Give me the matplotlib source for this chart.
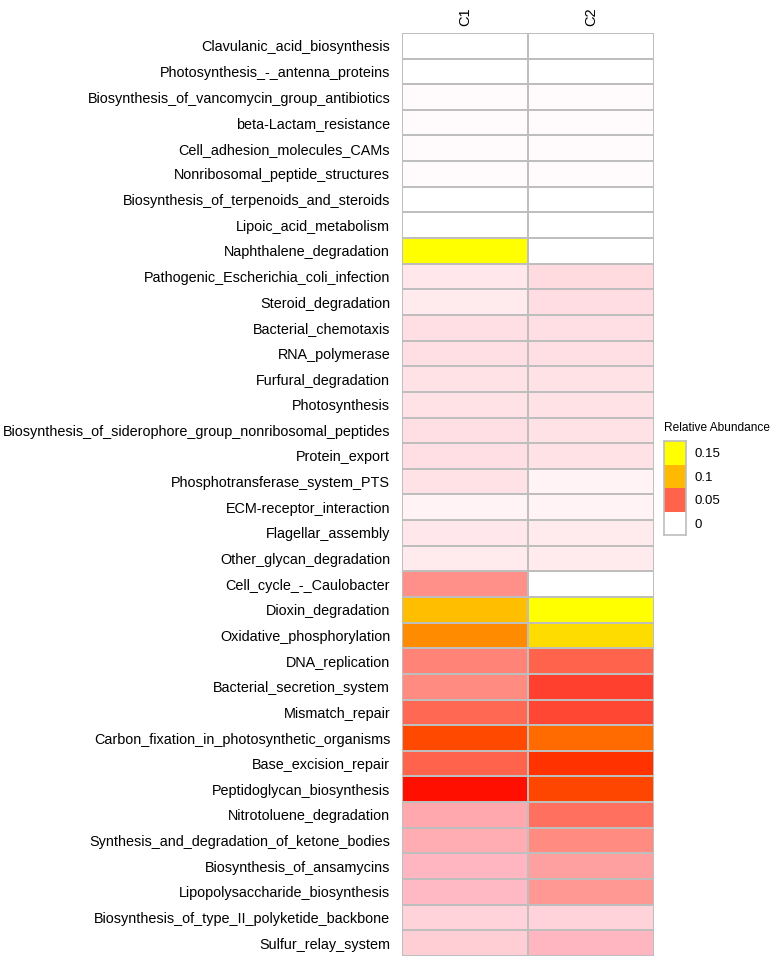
import matplotlib
matplotlib.use("Agg")
import matplotlib.pyplot as plt
import numpy as np
from matplotlib.colors import LinearSegmentedColormap, Normalize

plt.rcParams["font.family"] = ["Liberation Sans", "DejaVu Sans"]

pathways = [
    "Clavulanic_acid_biosynthesis",
    "Photosynthesis_-_antenna_proteins",
    "Biosynthesis_of_vancomycin_group_antibiotics",
    "beta-Lactam_resistance",
    "Cell_adhesion_molecules_CAMs",
    "Nonribosomal_peptide_structures",
    "Biosynthesis_of_terpenoids_and_steroids",
    "Lipoic_acid_metabolism",
    "Naphthalene_degradation",
    "Pathogenic_Escherichia_coli_infection",
    "Steroid_degradation",
    "Bacterial_chemotaxis",
    "RNA_polymerase",
    "Furfural_degradation",
    "Photosynthesis",
    "Biosynthesis_of_siderophore_group_nonribosomal_peptides",
    "Protein_export",
    "Phosphotransferase_system_PTS",
    "ECM-receptor_interaction",
    "Flagellar_assembly",
    "Other_glycan_degradation",
    "Cell_cycle_-_Caulobacter",
    "Dioxin_degradation",
    "Oxidative_phosphorylation",
    "DNA_replication",
    "Bacterial_secretion_system",
    "Mismatch_repair",
    "Carbon_fixation_in_photosynthetic_organisms",
    "Base_excision_repair",
    "Peptidoglycan_biosynthesis",
    "Nitrotoluene_degradation",
    "Synthesis_and_degradation_of_ketone_bodies",
    "Biosynthesis_of_ansamycins",
    "Lipopolysaccharide_biosynthesis",
    "Biosynthesis_of_type_II_polyketide_backbone",
    "Sulfur_relay_system",
]
samples = ["C1", "C2"]

c1 = [0.0, 0.0, 0.001, 0.001, 0.001, 0.0008, 0.0005, 0.0005, 0.16,
      0.004, 0.003, 0.006, 0.006, 0.005, 0.005, 0.006, 0.006, 0.005,
      0.002, 0.004, 0.003, 0.033, 0.105, 0.09, 0.038, 0.035, 0.048,
      0.076, 0.05, 0.066, 0.025, 0.024, 0.02, 0.019, 0.01, 0.012]
c2 = [0.0, 0.0, 0.001, 0.001, 0.001, 0.0008, 0.0005, 0.0005, 0.0,
      0.008, 0.007, 0.006, 0.006, 0.005, 0.005, 0.005, 0.005, 0.002,
      0.002, 0.003, 0.003, 0.0, 0.155, 0.128, 0.05, 0.056, 0.055,
      0.083, 0.072, 0.075, 0.045, 0.035, 0.028, 0.031, 0.01, 0.02]

legend_values = [0.15, 0.1, 0.05, 0]

vmax = 0.15
stops = [
    (0.0, "#FFFFFF"),
    (0.004, "#FFE4E8"),
    (0.02, "#FFB6C1"),
    (0.035, "#FF8A80"),
    (0.05, "#FF634B"),
    (0.065, "#FF0A00"),
    (0.075, "#FF4500"),
    (0.09, "#FF8C00"),
    (0.1, "#FFB900"),
    (0.125, "#FFD700"),
    (0.15, "#FFFF00"),
]
cmap = LinearSegmentedColormap.from_list("abund", [(v / vmax, c) for v, c in stops])
norm = Normalize(vmin=0, vmax=vmax, clip=True)

data = np.column_stack([c1, c2])

fig = plt.figure(figsize=(7.79, 9.6), dpi=100)
ax = fig.add_axes([0.516, 0.0042, 0.3235, 0.9615])
ax.pcolormesh(data, cmap=cmap, norm=norm, edgecolors="#BEBEBE", linewidth=1.2)
ax.set_xlim(0, 2)
ax.set_ylim(len(pathways), 0)
ax.set_yticks(np.arange(len(pathways)) + 0.5)
ax.set_yticklabels(pathways, fontsize=10.4)
ax.tick_params(axis="y", length=0, pad=8.5)
ax.set_xticks(np.arange(2) + 0.5)
ax.set_xticklabels(samples, fontsize=10.5, rotation=90)
ax.xaxis.tick_top()
ax.tick_params(axis="x", length=0, pad=5)
for s in ax.spines.values():
    s.set_visible(False)

# legend
lax = fig.add_axes([0.8524, 0.4427, 0.0282, 0.0979])
lax.pcolormesh(np.array(legend_values).reshape(-1, 1), cmap=cmap, norm=norm,
               edgecolors="none")
lax.set_ylim(len(legend_values), 0)
lax.set_xlim(0, 1)
lax.set_xticks([])
lax.set_yticks(np.arange(len(legend_values)) + 0.5)
lax.set_yticklabels([str(v) for v in legend_values], fontsize=9.5)
lax.yaxis.tick_right()
lax.tick_params(length=0, pad=6)
for s in lax.spines.values():
    s.set_color("#BEBEBE")
    s.set_linewidth(1.2)
lax.set_title("Relative Abundance", fontsize=8.6, loc="left", pad=7)

fig.savefig("out.png", dpi=100)
